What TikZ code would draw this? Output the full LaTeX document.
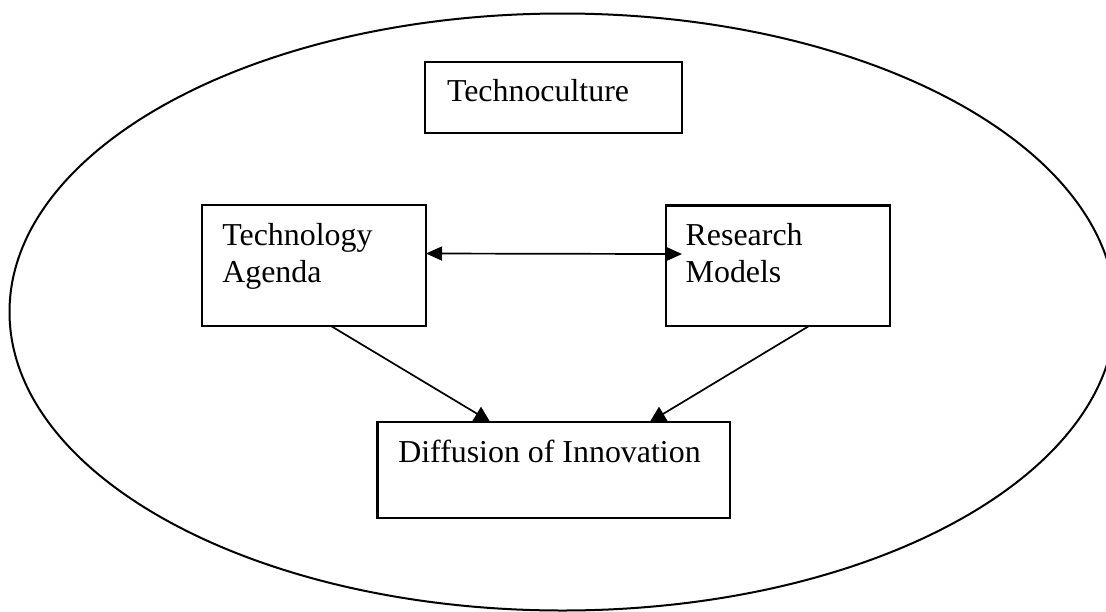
\documentclass[tikz,border=0pt]{standalone}
\usepackage{fontspec}
\setmainfont{Liberation Serif}
\usetikzlibrary{arrows.meta,calc}
\begin{document}
\begin{tikzpicture}[x=1pt,y=-1pt,
  boxst/.style={draw=black, line width=2.2pt, rectangle, inner sep=0pt, outer sep=0pt, anchor=north west},
  txt/.style={inner sep=0pt, outer sep=0pt, anchor=base west, font=\fontsize{31.9}{36.6}\selectfont},
  conn/.style={draw=black, line width=1.7pt},
  ell/.style={draw=black, line width=2pt},
  headst/.style={fill=black, draw=none}
]
\useasboundingbox (0,0) rectangle (1106,611);
\clip (0,0) rectangle (1106,611);
\fill[white] (0,0) rectangle (1106,611);

% surrounding ellipse
\draw[ell] (562.5,312) ellipse [x radius=553, y radius=298.5];

% boxes
\node[boxst, minimum width=257pt, minimum height=71pt] (TC) at (425,62) {};
\node[boxst, minimum width=224pt, minimum height=121pt] (TA) at (202,205) {};
\node[boxst, minimum width=224pt, minimum height=120.5pt] (RM) at (666,205.5) {};
\node[boxst, minimum width=352.5pt, minimum height=96pt] (DI) at (377.5,421.7) {};

% texts
\node[txt] (TCt) at (447,101.7) {Technoculture};
\node[txt] (TAt1) at (222.3,245) {Technology};
\node[txt] (TAt2) at (222.3,282) {Agenda};
\node[txt] (RMt1) at (685.7,245) {Research};
\node[txt] (RMt2) at (685.7,282) {Models};
\node[txt] (DIt) at (398.3,462.3) {Diffusion of Innovation};

% double arrow between Technology Agenda and Research Models
\draw[conn, {Triangle[length=16pt,width=14pt]}-{Triangle[length=16pt,width=14pt]}, shorten >=-16pt]
  ([yshift=-48.5pt]TA.north east) -- ([yshift=-48.5pt]RM.north west);

% arrows down to Diffusion of Innovation
\coordinate (aL) at ([xshift=103.5pt]DI.north west);
\coordinate (aR) at ([xshift=281.5pt]DI.north west);
\coordinate (eL) at (477.5,414);
\coordinate (eR) at (663,414);
\draw[conn] ([xshift=129pt]TA.south west) -- (eL);
\draw[conn] ([xshift=143pt]RM.south west) -- (eR);
\fill[headst] ($(aL)+(-9,0)$) -- ($(aL)+(0,-15)$) -- ($(aL)+(9,0)$) -- cycle;
\fill[headst] ($(aR)+(-9,0)$) -- ($(aR)+(0,-15)$) -- ($(aR)+(9,0)$) -- cycle;
\end{tikzpicture}
\end{document}
